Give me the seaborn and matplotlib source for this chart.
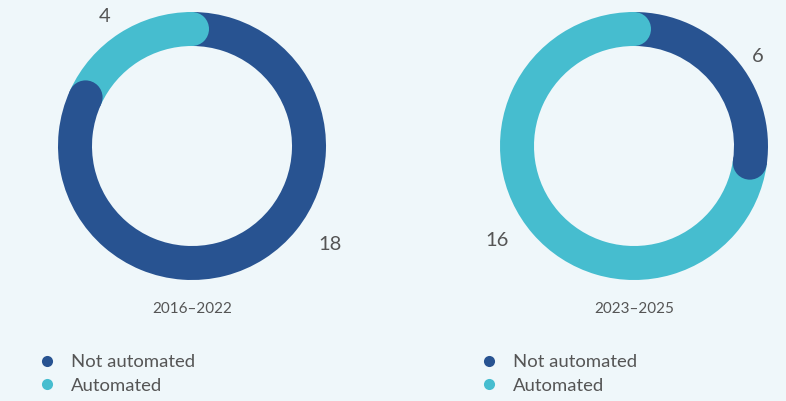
import matplotlib
matplotlib.use("Agg")
import matplotlib.pyplot as plt
import matplotlib.patches as mpatches
from matplotlib.lines import Line2D
from matplotlib.legend import Legend
import seaborn as sns
import numpy as np

# ---- data ----
periods = ["2016–2022", "2023–2025"]
categories = ["Not automated", "Automated"]
not_automated = [18, 6]
automated = [4, 16]

# ---- style ----
BG = "#eff7fa"
DARK = "#285391"
CYAN = "#46bdcf"
TXT = "#555555"
sns.set_theme(style="white", rc={"figure.facecolor": BG, "axes.facecolor": BG})
plt.rcParams["font.family"] = ["Lato", "DejaVu Sans"]
palette = sns.color_palette([DARK, CYAN])

W, H = 786, 401
fig = plt.figure(figsize=(W / 100, H / 100), dpi=100)
ax = fig.add_axes([0, 0, 1, 1])

centers = [(192, 255), (634, 255)]
R_OUT, RING = 134, 34
# label offsets (dx, dy) relative to donut centre, per category, per donut
label_offsets = [[(138, -99), (-87, 129)], [(124, 89), (-137, -94)]]

for i, period in enumerate(periods):
    vals = [not_automated[i], automated[i]]
    cx, cy = centers[i]
    wedges, _ = ax.pie(vals, colors=palette, startangle=90, counterclock=False,
                       radius=R_OUT, center=(cx, cy),
                       wedgeprops=dict(width=RING, linewidth=0))
    rmid = R_OUT - RING / 2
    for w, col in zip(wedges, palette):
        ang = np.deg2rad(w.theta1)
        cap = mpatches.Circle((cx + rmid * np.cos(ang), cy + rmid * np.sin(ang)),
                              RING / 2, color=col, linewidth=0, zorder=3)
        ax.add_patch(cap)
    for v, (dx, dy) in zip(vals, label_offsets[i]):
        ax.text(cx + dx, cy + dy, str(v), ha="center", va="center",
                fontsize=14.5, color=TXT)
    ax.text(cx, 92, period, ha="center", va="center", fontsize=11, color=TXT)

    handles = [Line2D([], [], marker="o", linestyle="", markersize=8,
                      markeredgewidth=0, color=c) for c in palette]
    leg = Legend(ax, handles, categories, loc="center left",
                 bbox_to_anchor=(cx - 154, 27), bbox_transform=ax.transData,
                 frameon=False, borderpad=0, borderaxespad=0,
                 handlelength=1.0, handletextpad=0.8, labelspacing=0.42,
                 prop={"size": 13.3}, labelcolor=TXT)
    ax.add_artist(leg)

ax.set_aspect("auto")
ax.set_xlim(0, W)
ax.set_ylim(0, H)
ax.axis("off")
fig.savefig("out.png", dpi=100, facecolor=BG)
